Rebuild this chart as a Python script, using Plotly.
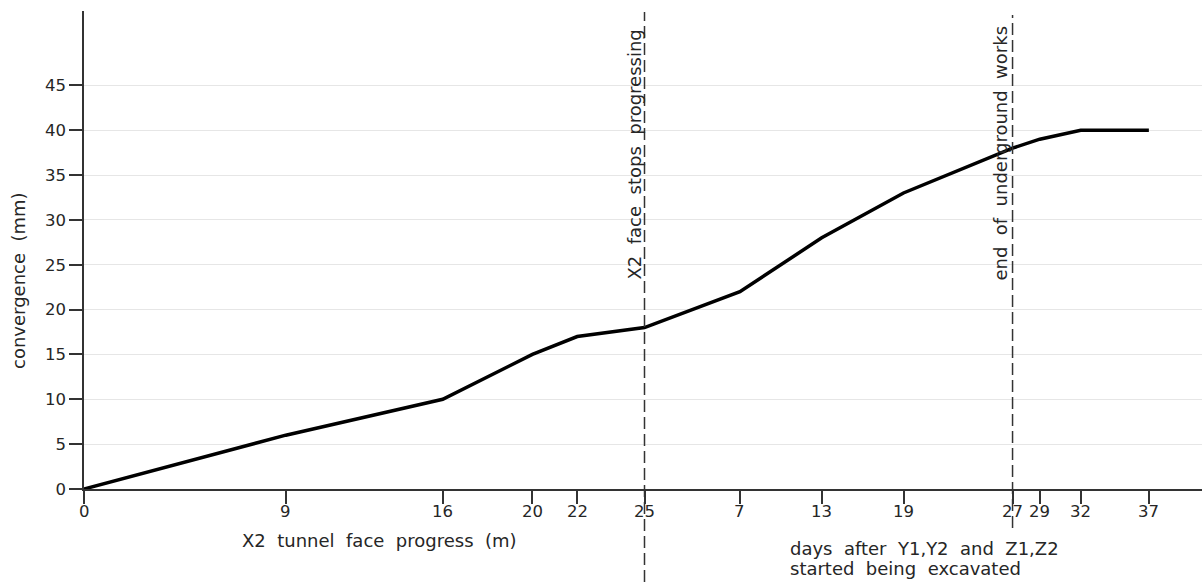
import plotly.graph_objects as go

# ---- data ----
dist_m = [0, 9, 16, 20, 22, 25]              # X2 tunnel face progress (m)
conv_dist = [0, 6, 10, 15, 17, 18]           # convergence (mm)
days = [7, 13, 19, 27, 29, 32, 37]           # days after Y1,Y2 and Z1,Z2 started
conv_days = [22, 28, 33, 38, 39, 40, 40]     # convergence (mm)
y_ticks = [0, 5, 10, 15, 20, 25, 30, 35, 40, 45]
face_stop_m = 25                             # X2 face stops progressing
end_works_day = 27                           # end of underground works

# composite x scale: metres first, then days starting where the face stopped
DAY_ORIGIN = face_stop_m
DAY_SCALE = 0.608   # axis units per day


def day_x(d):
    return DAY_ORIGIN + d * DAY_SCALE


xs = list(dist_m) + [day_x(d) for d in days]
ys = list(conv_dist) + list(conv_days)

tick_vals = list(dist_m) + [day_x(d) for d in days]
tick_text = [str(v) for v in dist_m] + [str(d) for d in days]

FONT = "DejaVu Sans"
TXT = "#262626"
AX = "#333333"
TS = 18  # annotation text size

fig = go.Figure()
fig.add_trace(go.Scatter(
    x=xs, y=ys, mode="lines",
    line=dict(color="black", width=3.5),
    cliponaxis=False, showlegend=False, hoverinfo="skip",
))

W, H = 1204, 582
L, R, T, B = 84, 2, 11, 93
px_per_m = 22.42
px_per_mm = 8.97
x_max = (W - L - R) / px_per_m
y_max = (H - T - B) / px_per_mm

fig.update_layout(
    width=W, height=H,
    margin=dict(l=L, r=R, t=T, b=B, pad=0),
    paper_bgcolor="white", plot_bgcolor="white",
    font=dict(family=FONT, size=16, color=TXT),
    xaxis=dict(
        range=[0, x_max], showgrid=False, zeroline=False,
        showline=True, linecolor=AX, linewidth=1.5,
        ticks="outside", ticklen=13, tickwidth=1.5, tickcolor=AX,
        tickvals=tick_vals, showticklabels=False,
    ),
    yaxis=dict(
        range=[0, y_max], showgrid=True, gridcolor="#e6e6e6", gridwidth=1,
        zeroline=False, showline=True, linecolor=AX, linewidth=1.5,
        ticks="outside", ticklen=13, tickwidth=1.5, tickcolor=AX,
        tickvals=y_ticks, ticktext=[str(v) for v in y_ticks],
        tickfont=dict(family=FONT, size=16.5, color=TXT),
    ),
)

plot_h = H - T - B
plot_w = W - L - R


def py(pixel_y):
    return (H - B - pixel_y) / plot_h


def pxp(pixel_x):
    return (pixel_x - L) / plot_w


# x tick labels (placed close under the ticks, as in the drawing)
for tv, tt in zip(tick_vals, tick_text):
    fig.add_annotation(x=tv, xref="x", y=py(511), yref="paper",
                       xanchor="center", yanchor="middle", text=tt,
                       showarrow=False, font=dict(size=16.5, color=TXT))

# vertical dashed markers
fig.add_shape(type="line", xref="x", yref="paper",
              x0=face_stop_m, x1=face_stop_m, y0=py(582), y1=py(12),
              line=dict(color=AX, width=1.5, dash="12px,5px"))
fig.add_shape(type="line", xref="x", yref="paper",
              x0=day_x(end_works_day), x1=day_x(end_works_day), y0=py(528), y1=py(15),
              line=dict(color=AX, width=1.5, dash="12px,5px"))

# rotated annotations
fig.add_annotation(x=face_stop_m, xref="x", y=py(155), yref="paper",
                   xanchor="center", yanchor="middle",
                   text="X2  face  stops  progressing", textangle=-90,
                   showarrow=False, xshift=-11, font=dict(size=TS, color=TXT))
fig.add_annotation(x=day_x(end_works_day), xref="x", y=py(153), yref="paper",
                   xanchor="center", yanchor="middle",
                   text="end  of  underground  works", textangle=-90,
                   showarrow=False, xshift=-13, font=dict(size=TS, color=TXT))

# axis titles
fig.add_annotation(x=pxp(18), xref="paper", y=py(281), yref="paper",
                   xanchor="center", yanchor="middle",
                   text="convergence  (mm)", textangle=-90, showarrow=False,
                   font=dict(size=TS, color=TXT))
fig.add_annotation(x=pxp(379), xref="paper", y=py(540), yref="paper",
                   xanchor="center", yanchor="middle",
                   text="X2  tunnel  face  progress  (m)", showarrow=False,
                   font=dict(size=TS, color=TXT))
fig.add_annotation(x=pxp(788), xref="paper", y=py(548), yref="paper",
                   xanchor="left", yanchor="middle",
                   text="days  after  Y1,Y2  and  Z1,Z2",
                   showarrow=False, font=dict(size=TS, color=TXT))
fig.add_annotation(x=pxp(788), xref="paper", y=py(568), yref="paper",
                   xanchor="left", yanchor="middle",
                   text="started  being  excavated",
                   showarrow=False, font=dict(size=TS, color=TXT))

fig.write_html(
    "out.html",
    config={"displayModeBar": False},
    post_script="document.body.style.margin='0';document.body.style.overflow='hidden';",
)
